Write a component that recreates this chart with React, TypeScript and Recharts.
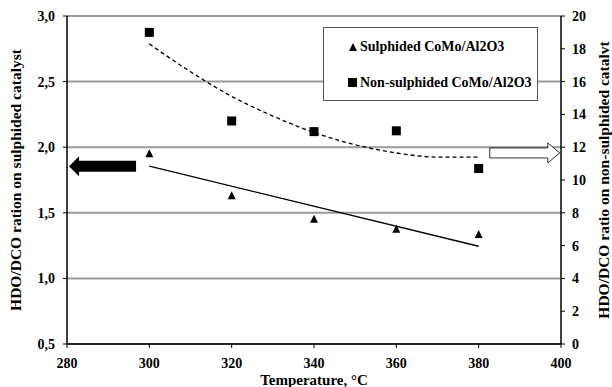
import {
  ComposedChart,
  Line,
  Scatter,
  XAxis,
  YAxis,
  CartesianGrid,
  ReferenceDot,
} from 'recharts';

// measured points
const temps = [300, 320, 340, 360, 380];
const sulphided = [1.95, 1.63, 1.45, 1.375, 1.335];
const nonSulphided = [19.0, 13.6, 12.95, 13.0, 10.7];

// trend lines
const linearTemps = [300, 380];
const linearTrend = [1.855, 1.245];
const polyTemps = [300, 310, 320, 330, 340, 350, 360, 370, 380];
const polyTrend = [18.3, 16.6, 15.1, 13.9, 12.9, 12.15, 11.65, 11.4, 11.4];

const xTicks = [280, 300, 320, 340, 360, 380, 400];
const leftTicks = [0.5, 1.0, 1.5, 2.0, 2.5, 3.0];
const rightTicks = [0, 2, 4, 6, 8, 10, 12, 14, 16, 18, 20];

const sulphidedData = temps.map((t, i) => ({ t, v: sulphided[i] }));
const nonSulphidedData = temps.map((t, i) => ({ t, v: nonSulphided[i] }));
const linearData = linearTemps.map((t, i) => ({ t, v: linearTrend[i] }));
const polyData = polyTemps.map((t, i) => ({ t, v: polyTrend[i] }));

const FONT = 'Liberation Serif';
const tickStyle = { fill: '#000', fontSize: 14, fontWeight: 700, fontFamily: FONT };
const titleStyle = { ...tickStyle, fontSize: 15.5 };

const Triangle = (props: any) => {
  const { cx, cy } = props;
  if (cx == null || cy == null) return null;
  return <polygon points={`${cx},${cy - 4.5} ${cx - 4},${cy + 3.5} ${cx + 4},${cy + 3.5}`} fill="#000" />;
};

const Square = (props: any) => {
  const { cx, cy } = props;
  if (cx == null || cy == null) return null;
  return <rect x={cx - 4.5} y={cy - 4.5} width={9} height={9} fill="#000" />;
};

// black arrow pointing left at the primary axis
const LeftArrow = (props: any) => {
  const { cx, cy } = props;
  const pts = [
    [cx, cy],
    [cx + 10, cy - 10],
    [cx + 10, cy - 5.5],
    [cx + 67, cy - 5.5],
    [cx + 67, cy + 5.5],
    [cx + 10, cy + 5.5],
    [cx + 10, cy + 10],
  ];
  return <polygon points={pts.map((p) => p.join(',')).join(' ')} fill="#000" />;
};

// open arrow pointing right at the secondary axis
const RightArrow = (props: any) => {
  const { cx, cy } = props;
  const pts = [
    [cx, cy],
    [cx - 12, cy - 10],
    [cx - 12, cy - 5],
    [cx - 70, cy - 5],
    [cx - 70, cy + 5],
    [cx - 12, cy + 5],
    [cx - 12, cy + 10],
  ];
  return <polygon points={pts.map((p) => p.join(',')).join(' ')} fill="#fff" stroke="#000" strokeWidth={0.8} />;
};

const legendRow = { position: 'absolute' as const, left: 24, height: 20, display: 'flex', alignItems: 'center' };

const LegendBox = () => (
  <div
    style={{
      position: 'absolute',
      left: 323,
      top: 27,
      width: 215,
      height: 74,
      boxSizing: 'border-box',
      border: '1px solid #555',
      background: '#fff',
      fontFamily: FONT,
      fontWeight: 700,
      fontSize: 14,
      color: '#000',
    }}
  >
    <div style={{ ...legendRow, top: 9 }}>
      <svg width={10} height={10} style={{ marginRight: 2 }}>
        <polygon points="5,1 1,9 9,9" fill="#000" />
      </svg>
      Sulphided CoMo/Al2O3
    </div>
    <div style={{ ...legendRow, top: 45 }}>
      <svg width={10} height={10} style={{ marginRight: 2 }}>
        <rect x={0} y={0} width={9} height={9} fill="#000" />
      </svg>
      Non-sulphided CoMo/Al2O3
    </div>
  </div>
);

export default function App() {
  return (
    <div style={{ position: 'absolute', left: 0, top: 0, width: 612, height: 387, background: '#fff' }}>
      <ComposedChart width={612} height={387} margin={{ top: 16, right: 0, bottom: 0, left: 0 }}>
        <CartesianGrid yAxisId="left" vertical={false} stroke="#9a9a9a" strokeWidth={2} />
        <XAxis
          dataKey="t"
          type="number"
          domain={[280, 400]}
          ticks={xTicks}
          height={43}
          tick={tickStyle}
          tickSize={4}
          tickMargin={10}
          axisLine={{ stroke: '#000', strokeWidth: 1.5 }}
          tickLine={{ stroke: '#000' }}
          label={{
            value: 'Temperature, °C',
            position: 'insideBottom',
            offset: 2,
            style: { ...titleStyle, fontSize: 15 },
          }}
        />
        <YAxis
          yAxisId="left"
          type="number"
          domain={[0.5, 3.0]}
          ticks={leftTicks}
          width={67}
          tick={tickStyle}
          tickSize={4}
          tickMargin={8}
          tickFormatter={(v: number) => v.toFixed(1).replace('.', ',')}
          axisLine={{ stroke: '#000', strokeWidth: 1.5 }}
          tickLine={{ stroke: '#000' }}
          label={{
            value: 'HDO/DCO ration on sulphided catalyst',
            angle: -90,
            position: 'insideLeft',
            offset: 15,
            style: { ...titleStyle, textAnchor: 'middle' },
          }}
        />
        <YAxis
          yAxisId="right"
          orientation="right"
          type="number"
          domain={[0, 20]}
          ticks={rightTicks}
          width={51}
          tick={tickStyle}
          tickSize={4}
          tickMargin={7}
          axisLine={{ stroke: '#000', strokeWidth: 1.5 }}
          tickLine={{ stroke: '#000' }}
          label={{
            value: 'HDO/DCO ratio on non-sulphided catalvt',
            angle: -90,
            position: 'insideRight',
            offset: 9,
            style: { ...titleStyle, textAnchor: 'middle' },
          }}
        />
        <Line
          yAxisId="left"
          data={linearData}
          dataKey="v"
          type="linear"
          stroke="#000"
          strokeWidth={1.3}
          dot={false}
          isAnimationActive={false}
          legendType="none"
        />
        <Line
          yAxisId="right"
          data={polyData}
          dataKey="v"
          type="monotone"
          stroke="#000"
          strokeWidth={1.3}
          strokeDasharray="4 3"
          dot={false}
          isAnimationActive={false}
          legendType="none"
        />
        <Scatter
          yAxisId="left"
          name="Sulphided CoMo/Al2O3"
          data={sulphidedData}
          dataKey="v"
          shape={<Triangle />}
          isAnimationActive={false}
        />
        <Scatter
          yAxisId="right"
          name="Non-sulphided CoMo/Al2O3"
          data={nonSulphidedData}
          dataKey="v"
          shape={<Square />}
          isAnimationActive={false}
        />
        <ReferenceDot yAxisId="left" x={280.5} y={1.855} shape={<LeftArrow />} />
        <ReferenceDot yAxisId="right" x={399.7} y={11.65} shape={<RightArrow />} />
      </ComposedChart>
      <LegendBox />
    </div>
  );
}
